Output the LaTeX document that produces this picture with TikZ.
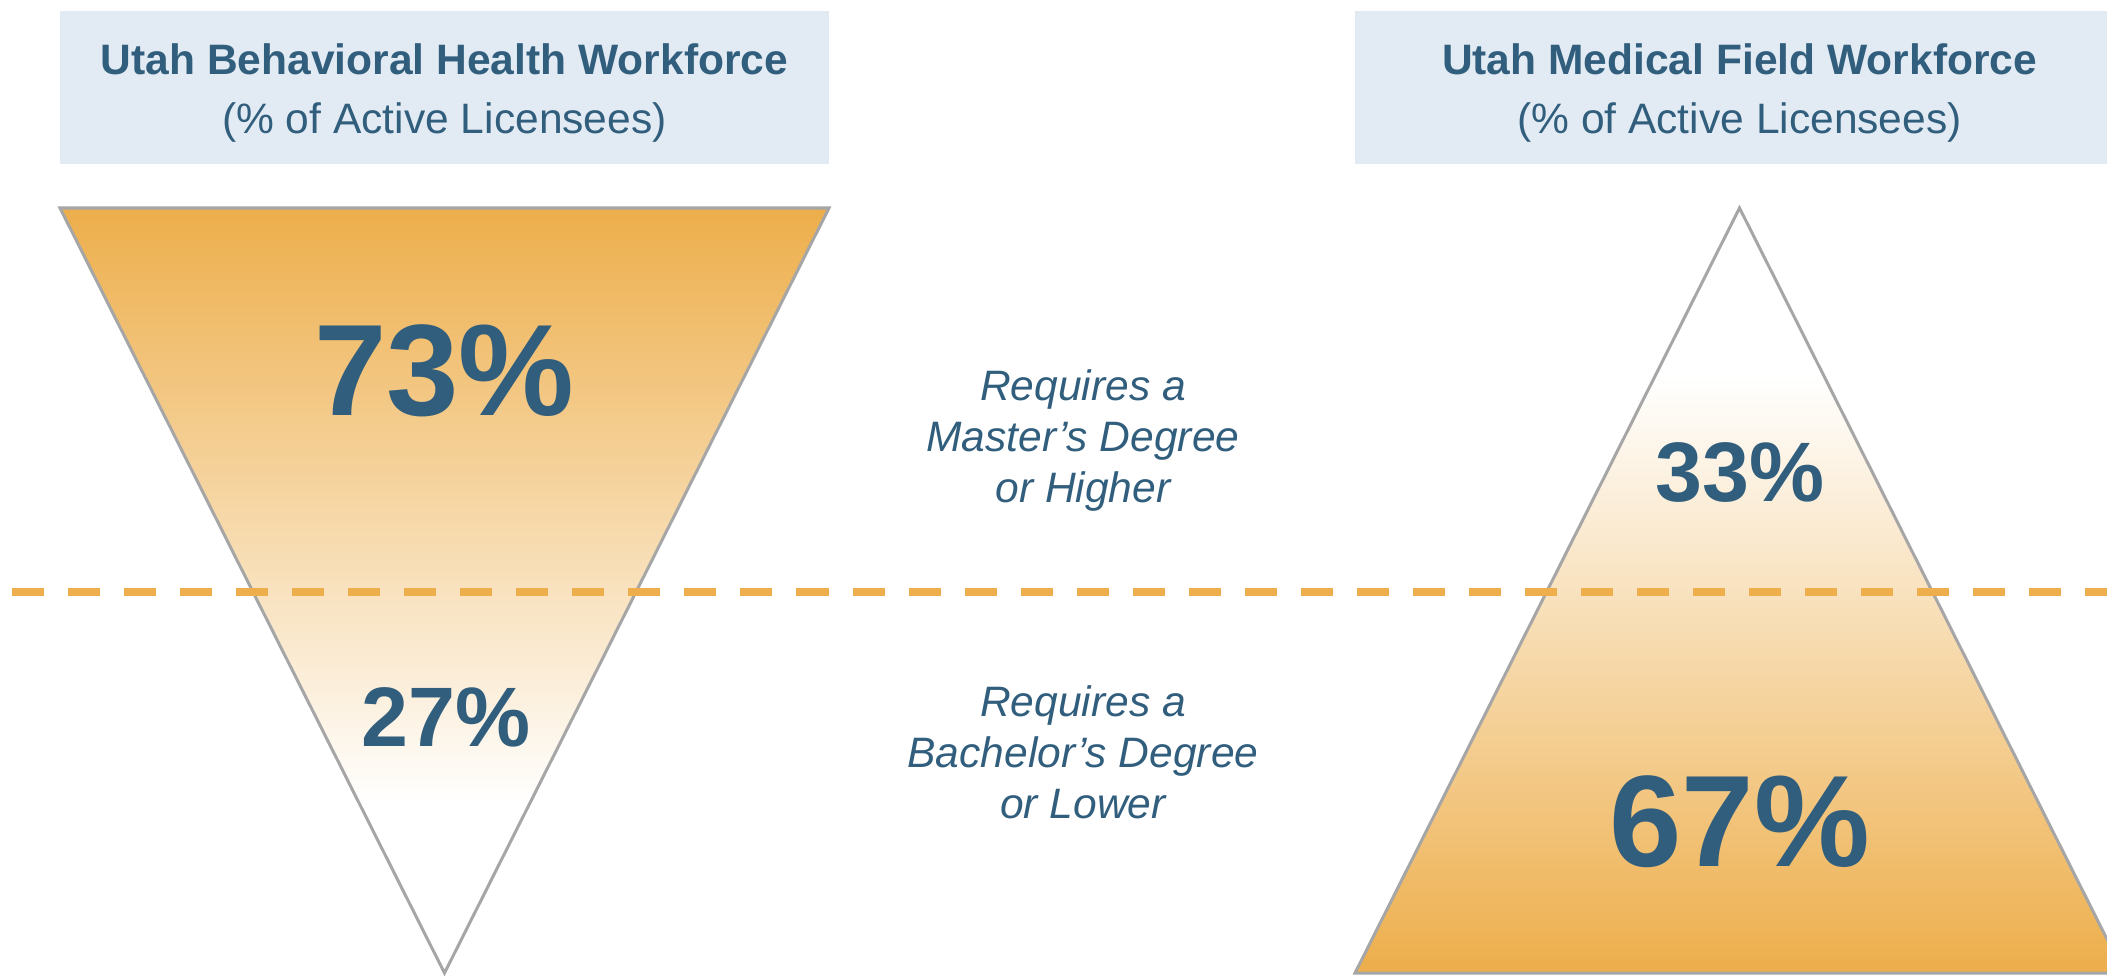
\documentclass[tikz,border=0pt]{standalone}
\usepackage{fontspec}
\setmainfont{Liberation Sans}
\usetikzlibrary{positioning}

\definecolor{wfblue}{RGB}{49,94,125}
\definecolor{wforange}{RGB}{237,174,75}
\definecolor{headfill}{RGB}{226,235,243}
\definecolor{edgegray}{RGB}{166,166,166}

% orange at the wide end, white towards the point
\pgfdeclareverticalshading{fadedown}{100bp}{color(0bp)=(white); color(36bp)=(white); color(75bp)=(wforange); color(100bp)=(wforange)}
\pgfdeclareverticalshading{fadeup}{100bp}{color(0bp)=(wforange); color(25bp)=(wforange); color(64bp)=(white); color(100bp)=(white)}

\begin{document}
\begin{tikzpicture}[
    x=0.01cm, y=-0.01cm,
    headbox/.style={rectangle, fill=headfill, minimum width=7.69cm, minimum height=1.53cm, inner sep=0pt},
    headtitle/.style={text=wfblue, font=\fontsize{12.1}{14.5}\selectfont\bfseries, inner sep=0pt},
    headsub/.style={text=wfblue, font=\fontsize{12.1}{14.5}\selectfont, inner sep=0pt},
    share/.style={text=wfblue, font=\fontsize{#1}{#1}\selectfont\bfseries, inner sep=0pt},
    level/.style={text=wfblue, font=\fontsize{12.1}{14.5}\selectfont\itshape, align=center, inner sep=0pt},
    tri/.style={draw=edgegray, line width=0.03cm},
    divider/.style={draw=wforange, line width=0.08cm, dash pattern=on 0.32cm off 0.24cm}
]

\clip (0,0) rectangle (2107,976);

% Headers
\node[headbox] (bhbox) at (444.5,87.5) {};
\node[headbox] (mfbox) at (1739.5,87.5) {};
\node[headtitle] (bhtitle) at (444.5,59) {Utah Behavioral Health Workforce};
\node[headsub] (bhsub) at (444.5,122) {(\% of Active Licensees)};
\node[headtitle] (mftitle) at (1739.5,59) {Utah Medical Field Workforce};
\node[headsub] (mfsub) at (1739.5,122) {(\% of Active Licensees)};

% Triangles
\coordinate (bhleft) at (60,208);
\coordinate (bhright) at (829,208);
\coordinate (bhtip) at (444.5,973);
\coordinate (mfleft) at (1355,973);
\coordinate (mfright) at (2124,973);
\coordinate (mftip) at (1739.5,208);
\path[tri, shade, shading=fadedown] (bhleft) -- (bhright) -- (bhtip) -- cycle;
\path[tri, shade, shading=fadeup] (mfleft) -- (mftip) -- (mfright) -- cycle;

% Divider
\coordinate (divl) at (12,592);
\coordinate (divr) at (2130,592);
\draw[divider] (divl) -- (divr);

% Shares
\node[share=37] (bhhigh) at (444.5,371) {73\%};
\node[share=24] (bhlow) at (446,717) {27\%};
\node[share=24] (mfhigh) at (1740,473) {33\%};
\node[share=37] (mflow) at (1739.5,822) {67\%};

% Labels
\node[level] (higher) at (1083,440) {Requires a\\Master’s Degree\\or Higher};
\node[level] (lower) at (1083,752) {Requires a\\Bachelor’s Degree\\or Lower};

\end{tikzpicture}
\end{document}
